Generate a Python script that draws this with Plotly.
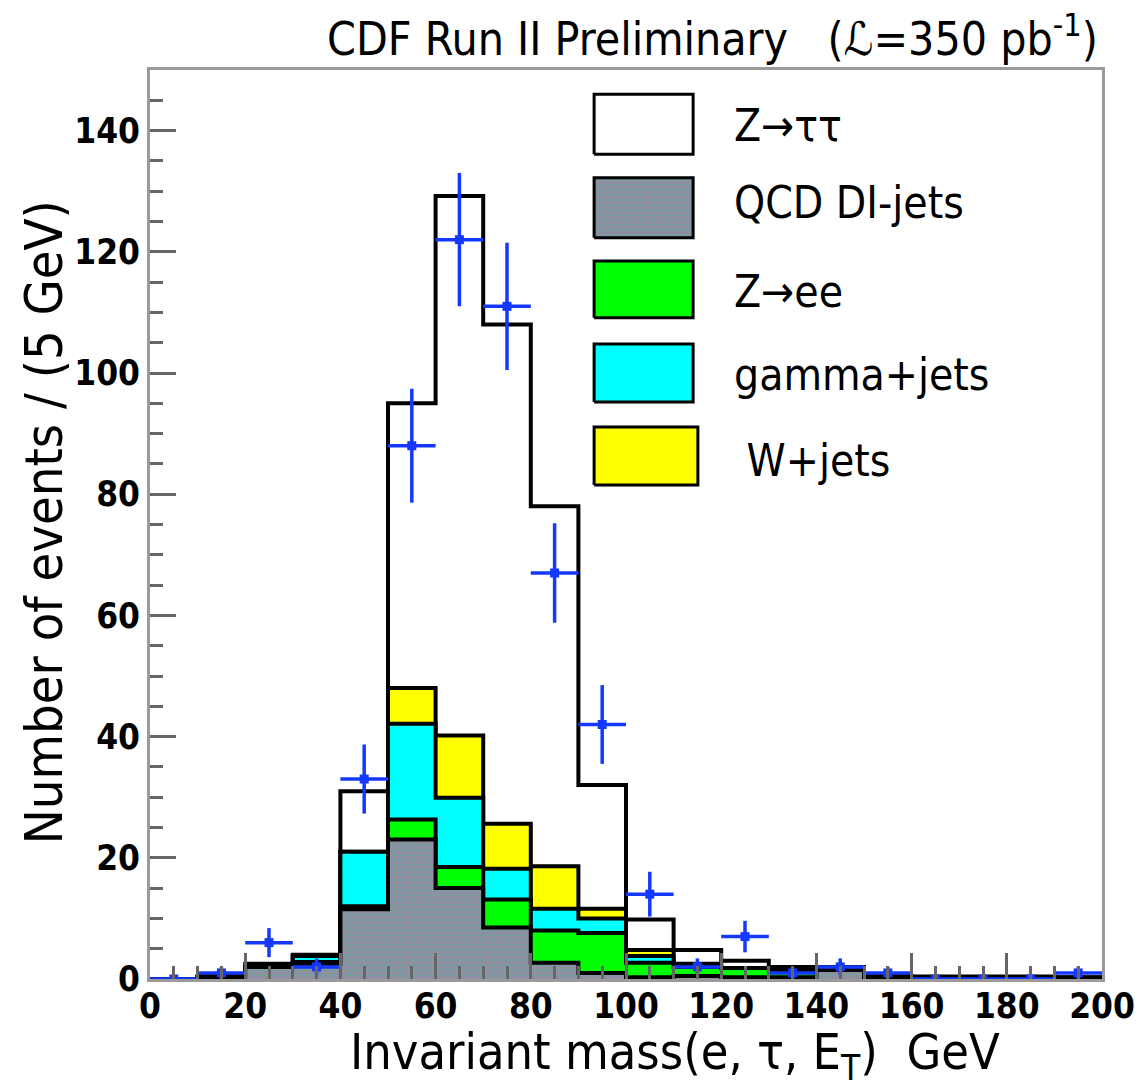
import numpy as np
import plotly.graph_objects as go

# ---------------- data ----------------
bin_edges = list(range(0, 210, 10))          # 10 GeV bins, 0..200
bin_centers = [e + 5 for e in bin_edges[:-1]]

qcd_dijets = [0, 0.3, 2.0, 2.5, 11.5, 23.0, 15.0, 8.5, 2.7, 1.0, 0.3, 0.5, 0.3, 0.3, 1.5, 0.2, 0.2, 0.2, 0.2, 0.1]
z_ee       = [0, 0, 0, 0.3, 0.5, 3.3, 3.5, 4.6, 5.3, 6.6, 2.4, 1.5, 1.5, 1.0, 0.2, 0.1, 0.1, 0.1, 0.1, 0.1]
gamma_jets = [0, 0, 0, 1.0, 9.0, 15.8, 11.4, 5.1, 3.6, 2.4, 1.1, 0.2, 0, 0, 0, 0, 0, 0, 0, 0]
w_jets     = [0, 0, 0, 0, 0, 5.9, 10.3, 7.4, 7.0, 1.6, 1.0, 0.3, 0, 0, 0, 0, 0, 0, 0, 0]
z_tautau   = [0, 0.2, 0.5, 0.2, 10.0, 47.0, 89.0, 82.4, 59.4, 20.4, 5.0, 2.3, 1.2, 0.7, 0.3, 0.2, 0.1, 0.1, 0.1, 0.1]

data_counts = [0, 1, 6, 2, 33, 88, 122, 111, 67, 42, 14, 2, 7, 1, 2, 1, 0, 0, 0, 1]
data_errors = [0, 1, 2.4, 1.4, 5.7, 9.4, 11.0, 10.5, 8.2, 6.5, 3.7, 1.4, 2.6, 1.0, 1.4, 1.0, 0, 0, 0, 1.0]
data_xerr = [5] * 20

legend_labels = ["Z\u2192\u03c4\u03c4", "QCD DI-jets", "Z\u2192ee", "gamma+jets", " W+jets"]
x_ticks = list(range(0, 220, 20))
y_ticks = list(range(0, 160, 20))

title_text = "CDF Run II Preliminary   (\u2112=350 pb<sup>-1</sup>)"
x_title = "Invariant mass(e, \u03c4, E<sub>T</sub>)  GeV"
y_title = "Number of events / (5 GeV)"

# ---------------- style ----------------
FONT = "DejaVu Sans Condensed, Liberation Sans Narrow, Liberation Sans, sans-serif"
BLUE = "#1438ff"
QCD_PATTERN = dict(shape=".", bgcolor="#7a9c9c", fgcolor="#b27aae", size=5, solidity=0.5)
colors = {"ztt": "#ffffff", "wj": "#ffff00", "gj": "#00ffff", "zee": "#00ff00", "qcd": "#8a9a9c"}

# legend box placement (in axis units)
leg_x0, leg_x1 = 93.3, 114.1
leg_boxes_y = [(136.1, 146.0), (122.3, 132.2), (109.1, 118.5), (95.2, 104.8), (81.5, 91.1)]
leg_x1_list = [leg_x1, leg_x1, leg_x1, leg_x1, 115.1]
leg_text_x = [122.3, 122.3, 122.3, 122.3, 122.3]
leg_text_y = [140.9, 128.2, 113.4, 99.7, 85.5]

# ---------------- figure ----------------
fig = go.Figure()

c1 = np.array(qcd_dijets)
c2 = c1 + np.array(z_ee)
c3 = c2 + np.array(gamma_jets)
c4 = c3 + np.array(w_jets)
c5 = c4 + np.array(z_tautau)

layers = [(c5, "ztt"), (c4, "wj"), (c3, "gj"), (c2, "zee"), (c1, "qcd")]
for cum, key in layers:
    kw = {}
    if key == "qcd":
        kw["fillpattern"] = QCD_PATTERN
    fig.add_trace(go.Scatter(
        x=bin_edges, y=np.append(cum, cum[-1]),
        mode="lines", line=dict(shape="hv", color="black", width=4),
        fill="tozeroy", fillcolor=colors[key],
        showlegend=False, hoverinfo="skip", **kw))

# data points
fig.add_trace(go.Scatter(
    x=bin_centers, y=data_counts, mode="markers",
    marker=dict(symbol="square", size=9, color=BLUE),
    error_x=dict(type="data", array=data_xerr, color=BLUE, thickness=3.5, width=0),
    error_y=dict(type="data", array=data_errors, color=BLUE, thickness=3.5, width=0),
    showlegend=False, hoverinfo="skip"))

# legend boxes
leg_keys = ["ztt", "qcd", "zee", "gj", "wj"]
for i, key in enumerate(leg_keys):
    y0, y1 = leg_boxes_y[i]
    x1 = leg_x1_list[i]
    kw = {}
    if key == "qcd":
        kw["fillpattern"] = QCD_PATTERN
    fig.add_trace(go.Scatter(
        x=[leg_x0, x1, x1, leg_x0, leg_x0], y=[y0, y0, y1, y1, y0],
        mode="lines", line=dict(color="black", width=3),
        fill="toself", fillcolor=colors[key],
        showlegend=False, hoverinfo="skip", **kw))
    fig.add_annotation(x=leg_text_x[i], y=leg_text_y[i], xref="x", yref="y",
                       text=legend_labels[i], showarrow=False,
                       xanchor="left", yanchor="middle",
                       font=dict(family=FONT, size=44, color="black"))

# titles
fig.add_annotation(x=0.998, y=1.037, xref="paper", yref="paper", text=title_text,
                   showarrow=False, xanchor="right", yanchor="middle",
                   font=dict(family=FONT, size=46, color="black"))
fig.add_annotation(x=0.551, y=-0.1225, xref="paper", yref="paper", text=x_title,
                   showarrow=False, xanchor="center", yanchor="bottom",
                   font=dict(family=FONT, size=50, color="black"))
fig.add_annotation(x=-0.112, y=0.503, xref="paper", yref="paper", text=y_title,
                   showarrow=False, xanchor="center", yanchor="middle", textangle=-90,
                   font=dict(family=FONT, size=52, color="black"))

axis_common = dict(
    showline=True, linecolor="#9a9a9a", linewidth=3, mirror=True,
    ticks="inside", ticklen=26, tickwidth=3, tickcolor="#666666",
    showgrid=False, zeroline=False, automargin=False,
    tickfont=dict(family=FONT, size=35, color="black", weight="bold"),
)

fig.update_xaxes(range=[0, 200], tickvals=x_ticks, ticklabelstandoff=-6,
                 minor=dict(ticks="inside", dtick=5, ticklen=13, tickwidth=3, tickcolor="#666666"),
                 **axis_common)
fig.update_yaxes(range=[0, 150], tickvals=y_ticks,
                 minor=dict(ticks="inside", dtick=5, ticklen=13, tickwidth=3, tickcolor="#666666"),
                 **axis_common)

fig.update_layout(
    width=1140, height=1087,
    margin=dict(l=150, r=38, t=70, b=108),
    paper_bgcolor="white", plot_bgcolor="white",
    showlegend=False,
)

fig.write_html("out.html")
